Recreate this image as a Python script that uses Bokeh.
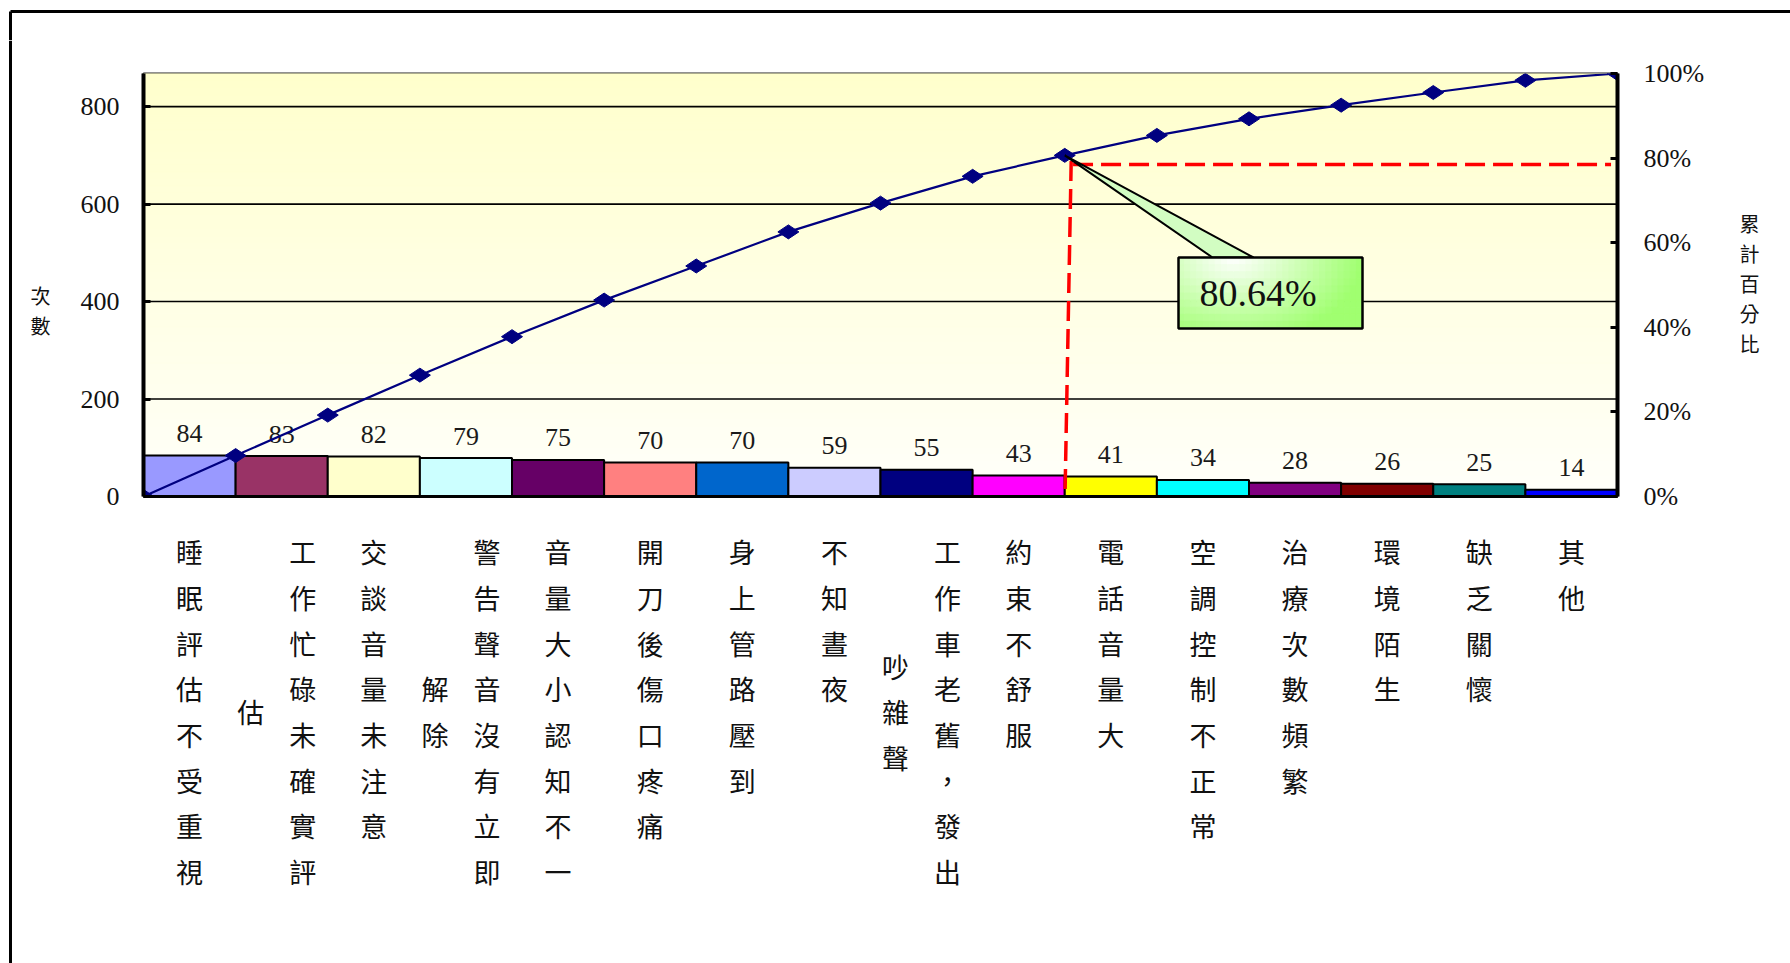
import math
import numpy as np
from bokeh.plotting import figure
from bokeh.models import Range1d, LinearAxis, FixedTicker, NumeralTickFormatter
from bokeh.layouts import column, row
from bokeh.core.properties import value
from bokeh.embed import file_html
from bokeh.resources import INLINE

# ---------------- data ----------------
categories = ["睡眠評估不受重視", "工作忙碌未確實評估", "交談音量未注意", "警告聲音沒有立即解除",
              "音量大小認知不一", "開刀後傷口疼痛", "身上管路壓到", "不知晝夜",
              "工作車老舊，發出吵雜聲", "約束不舒服", "電話音量大", "空調控制不正常",
              "治療次數頻繁", "環境陌生", "缺乏關懷", "其他"]
counts = [84, 83, 82, 79, 75, 70, 70, 59, 55, 43, 41, 34, 28, 26, 25, 14]
bar_colors = ["#9999FF", "#993366", "#FFFFCC", "#CCFFFF", "#660066", "#FF8080", "#0066CC", "#CCCCFF",
              "#000080", "#FF00FF", "#FFFF00", "#00FFFF", "#800080", "#800000", "#008080", "#0000FF"]
count_ticks = [0, 200, 400, 600, 800]
pct_ticks = [0.0, 0.2, 0.4, 0.6, 0.8, 1.0]
callout_text = "80.64%"
left_title = "次數"
right_title = "累計百分比"
cut_index = 10          # category where the cumulative share passes ~80%
ref_level = 0.785       # level of the hand-drawn dashed reference line

total = sum(counts)
n = len(counts)
cum_pct = [0.0] + list(np.cumsum(counts) / total)

# ---------------- layout (page pixels) ----------------
W, H = 1790, 963
FL, FR, FT, FB = 143, 1617, 73, 496       # plot-area frame
TOP_H = 40                                # strip holding the top border line
LEFT_W, RIGHT_X = 60, 1720                # side strips (border line / titles)
MAIN_B = 516                              # bottom of the main chart figure
xpx = (FR - FL) / n
ypx = (FB - FT) / total
TXT = "#111111"


def xd(px):
    return (px - FL) / xpx


def pd(py):
    return (FB - py) / (FB - FT)


def strip(w, h, x_range, y_top, y_bot):
    f = figure(width=w, height=h, x_range=x_range, y_range=Range1d(y_bot, y_top),
               x_axis_type=None, y_axis_type=None, output_backend="svg",
               toolbar_location=None, min_border=0)
    f.outline_line_color = None
    f.background_fill_color = "white"
    f.border_fill_color = "white"
    return f


# ---------------- main chart ----------------
main = figure(width=RIGHT_X - LEFT_W, height=MAIN_B - TOP_H,
              x_range=Range1d(0, n), y_range=Range1d(0, total),
              output_backend="svg", toolbar_location=None,
              min_border_left=FL - LEFT_W, min_border_right=RIGHT_X - FR,
              min_border_top=FT - TOP_H, min_border_bottom=MAIN_B - FB)
main.extra_y_ranges = {"pct": Range1d(0, 1)}
main.background_fill_color = "white"
main.border_fill_color = "white"
main.outline_line_color = "#222222"
main.outline_line_width = 2
main.xgrid.visible = False
main.ygrid.visible = False

# background gradient (light yellow at top -> near white at bottom)
nb = 60
edges = np.linspace(0, total, nb + 1)
band_cols = []
for k in range(nb):
    f = (k + 0.5) / nb
    b = int(round(250 - (250 - 204) * f))
    band_cols.append("#%02x%02x%02x" % (255, 255, b))
main.quad(left=0, right=n, bottom=edges[:-1], top=edges[1:], fill_color=band_cols,
          line_color=band_cols, line_width=1)

# gridlines
gt = count_ticks[1:]
main.segment(x0=[0] * len(gt), x1=[n] * len(gt), y0=gt, y1=gt, line_color="black", line_width=1.6)

# bars
idx = np.arange(n)
main.quad(left=idx, right=idx + 1, bottom=0, top=counts, fill_color=bar_colors,
          line_color="black", line_width=2)

# value labels
main.text(x=idx + 0.5, y=np.array(counts) + 22 / ypx, text=[str(c) for c in counts],
          text_font=value("Liberation Serif"), text_font_size="26px", text_align="center",
          text_baseline="middle", text_color="#1a1a1a")

# red dashed reference lines
main.line(x=[cut_index + 0.07, cut_index], y=[ref_level + 0.008, -0.03], y_range_name="pct",
          line_color="#FF0000", line_width=3.5, line_dash="20 8")
main.line(x=[cut_index + 0.09, n - 0.07], y=[ref_level, ref_level], y_range_name="pct",
          line_color="#FF0000", line_width=3.5, line_dash="20 8")

# cumulative line
xs = list(range(n + 1))
main.line(x=xs, y=cum_pct, y_range_name="pct", line_color="#000080", line_width=2.2)
main.scatter(x=xs, y=cum_pct, y_range_name="pct", marker="diamond", size=21, angle=math.pi / 2,
             fill_color="#000080", line_color="#000080")

# callout
bx0, bx1 = xd(1178), xd(1362)
bt, bb = pd(257), pd(328)
main.patch(x=[cut_index, xd(1212), xd(1253)], y=[cum_pct[cut_index], bt, bt], y_range_name="pct",
           fill_color="#d2fdc2", line_color="black", line_width=2)
nu, nv = 30, 10
cl, cr, cb, ct, cc = [], [], [], [], []
for a in range(nu):
    for b in range(nv):
        u = (a + 0.5) / nu
        v = (b + 0.5) / nv
        t = min(1.0, math.sqrt(((u - 0.3) / 0.7) ** 2 + (v / 1.2) ** 2))
        r = int(round(255 + (160 - 255) * t))
        bl = int(round(255 + (112 - 255) * t))
        col = "#%02x%02x%02x" % (r, 255, bl)
        cl.append(bx0 + (bx1 - bx0) * a / nu)
        cr.append(bx0 + (bx1 - bx0) * (a + 1) / nu)
        ct.append(bt - (bt - bb) * b / nv)
        cb.append(bt - (bt - bb) * (b + 1) / nv)
        cc.append(col)
main.quad(left=cl, right=cr, top=ct, bottom=cb, fill_color=cc, line_color=cc, line_width=1,
          y_range_name="pct")
main.quad(left=[bx0], right=[bx1], top=[bt], bottom=[bb], fill_color=None, line_color="black",
          line_width=2.5, y_range_name="pct")
main.text(x=[xd(1199)], y=[pd(292)], text=[callout_text], y_range_name="pct",
          text_font=value("Liberation Serif"), text_font_size="38px", text_align="left",
          text_baseline="middle", text_color=TXT)

# axes
yl = main.yaxis[0]
yl.ticker = FixedTicker(ticks=count_ticks)
yl.axis_line_width = 4
yl.axis_line_color = "black"
yl.major_tick_in = 7
yl.major_tick_out = 0
yl.major_tick_line_width = 3
yl.minor_tick_line_color = None
yl.major_label_text_font = "Liberation Serif"
yl.major_label_text_font_size = "26px"
yl.major_label_text_color = TXT
yl.major_label_standoff = 24

yr = LinearAxis(y_range_name="pct", ticker=FixedTicker(ticks=pct_ticks),
                formatter=NumeralTickFormatter(format="0%"))
yr.axis_line_width = 4
yr.axis_line_color = "black"
yr.major_tick_in = 7
yr.major_tick_out = 0
yr.major_tick_line_width = 3
yr.minor_tick_line_color = None
yr.major_label_text_font = "Liberation Serif"
yr.major_label_text_font_size = "26px"
yr.major_label_text_color = TXT
yr.major_label_standoff = 26
main.add_layout(yr, "right")

xa = main.xaxis[0]
xa.ticker = FixedTicker(ticks=[])
xa.axis_line_width = 3
xa.axis_line_color = "black"
xa.major_tick_line_color = None
xa.minor_tick_line_color = None

# ---------------- category labels (vertical text, columns of 8 characters) ----------------
# the column layout aligns this figure's frame with the main chart's frame, so share its x range
bottom = strip(RIGHT_X - LEFT_W, H - MAIN_B, main.x_range, MAIN_B, H)
row0, dy, maxrow = 551.4, 45.67, 8
lx, ly, lt = [], [], []
for i, lab in enumerate(categories):
    if len(lab) <= maxrow:
        cols = [(lab, 0.0, 0.0)]
    else:
        second = lab[maxrow:]
        cols = [(lab[:maxrow], 21.0, 0.0), (second, -31.0, (maxrow - len(second)) / 2)]
    for text, off, start in cols:
        for r, ch in enumerate(text):
            lx.append(i + 0.5 + off / xpx)
            ly.append(row0 + (start + r) * dy)
            lt.append(ch)
bottom.text(x=lx, y=ly, text=lt, text_font=value("Noto Sans CJK TC"), text_font_size="27px",
            text_align="center", text_baseline="middle", text_color=TXT)

# ---------------- border strips and axis titles ----------------
top = strip(W, TOP_H, Range1d(0, W), 0, TOP_H)
top.segment(x0=[10, 10], y0=[11, 11], x1=[W, 10], y1=[11, TOP_H], line_color="black", line_width=3)

left = strip(LEFT_W, H - TOP_H, Range1d(0, LEFT_W), TOP_H, H)
left.segment(x0=[10], y0=[TOP_H], x1=[10], y1=[H], line_color="black", line_width=3)
left.text(x=[40] * len(left_title), y=[294.5 + 30.5 * k for k in range(len(left_title))],
          text=list(left_title), text_font=value("Noto Sans CJK TC"), text_font_size="20px",
          text_align="center", text_baseline="middle", text_color=TXT)

right = strip(W - RIGHT_X, H - TOP_H, Range1d(RIGHT_X, W), TOP_H, H)
right.text(x=[1749] * len(right_title), y=[222.6 + 30.0 * k for k in range(len(right_title))],
           text=list(right_title), text_font=value("Noto Sans CJK TC"), text_font_size="20px",
           text_align="center", text_baseline="middle", text_color=TXT)

p = column(top, row(left, column(main, bottom), right))

open("out.html", "w").write(file_html(p, INLINE))
